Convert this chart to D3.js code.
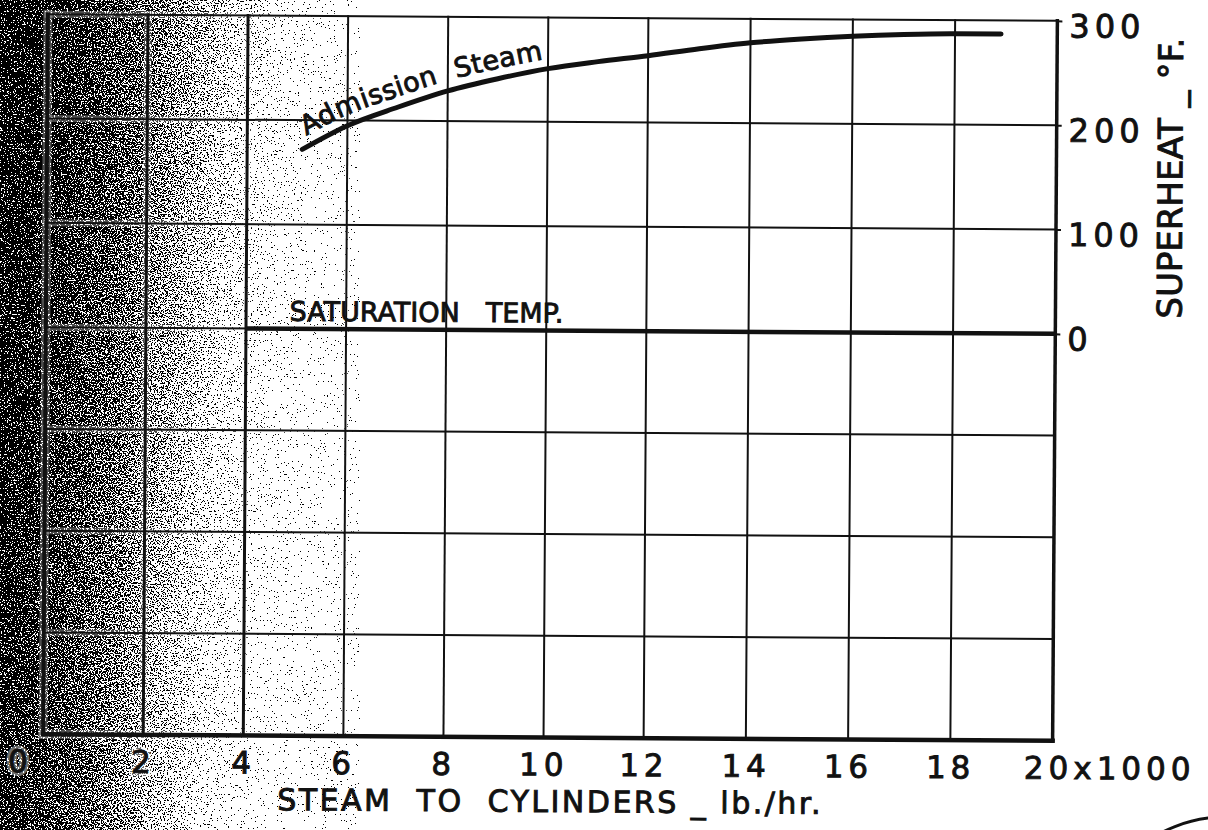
<!DOCTYPE html>
<html>
<head>
<meta charset="utf-8">
<script src="https://cdn.jsdelivr.net/npm/d3@7"></script>
<style>
  body { margin: 0; background: #fff; }
  svg { display: block; }
  text { font-family: "DejaVu Sans", Lato, sans-serif; fill: #111; }
  /* pen lettering is heavier than the font */
  .ink { stroke: #111; stroke-width: 0.9; }
</style>
</head>
<body>
<svg width="1208" height="830"></svg>
<script>
// steam to cylinders (x1000 lb/hr) vs superheat (deg F)
const admissionFlow = [5.1, 6, 7, 8, 9, 10, 11, 12, 13, 14, 15, 16, 17, 18, 18.9]
const admissionSuperheat = [172, 195, 213, 229, 241, 251, 258, 264, 271, 277, 281, 284, 286, 287, 287]
const saturationFlow = [4, 20]
const saturationSuperheat = [0, 0]

const xTicks = [0, 2, 4, 6, 8, 10, 12, 14, 16, 18, 20]
const xTickLabels = ['0', '2', '4', '6', '8', '10', '12', '14', '16', '18', '20x1000']
const yTicks = [0, 100, 200, 300]
const yTickLabels = ['0', '100', '200', '300']
const gridRows = [-400, -300, -200, -100, 0, 100, 200, 300]

const svg = d3.select('svg')

// the paper is unevenly printed: scale is a bit stretched, so polylinear
const x = d3.scaleLinear().domain([0, 12, 20]).range([45.5, 646, 1055])
const y = d3.scaleLinear().domain([-400, 0, 300]).range([737.5, 330.5, 17.5])

// scanner shading on the left edge
const defs = svg.append('defs')
const grad = defs.append('linearGradient').attr('id', 'shade')
  .attr('gradientUnits', 'userSpaceOnUse')
  .attr('x1', 0).attr('y1', 0).attr('x2', 340).attr('y2', 25)
const stops = [[0, '#303030'], [0.13, '#383838'], [0.3, '#525252'], [0.43, '#6e6e6e'], [0.59, '#a0a0a0'], [0.72, '#d0d0d0'], [0.86, '#f0f0f0'], [1, '#fff']]
stops.forEach(s => grad.append('stop').attr('offset', s[0]).attr('stop-color', s[1]))

const grain = defs.append('filter').attr('id', 'grain')
  .attr('x', 0).attr('y', 0).attr('width', '100%').attr('height', '100%')
  .attr('color-interpolation-filters', 'sRGB')
grain.append('feTurbulence').attr('type', 'fractalNoise').attr('baseFrequency', 0.7)
  .attr('numOctaves', 2).attr('seed', 7).attr('result', 'noise')
grain.append('feColorMatrix').attr('in', 'noise').attr('type', 'matrix')
  .attr('values', '1 0 0 0 0  1 0 0 0 0  1 0 0 0 0  0 0 0 0 1').attr('result', 'mono')
grain.append('feComposite').attr('in', 'SourceGraphic').attr('in2', 'mono')
  .attr('operator', 'arithmetic').attr('k1', 0).attr('k2', 1).attr('k3', 2.2).attr('k4', -1.1)
  .attr('result', 'mix')
const ct = grain.append('feComponentTransfer').attr('in', 'mix')
;['feFuncR', 'feFuncG', 'feFuncB'].forEach(f => ct.append(f).attr('type', 'discrete').attr('tableValues', '0 1'))
ct.append('feFuncA').attr('type', 'linear').attr('slope', 0).attr('intercept', 1)

svg.append('rect').attr('x', 0).attr('y', 0).attr('width', 360).attr('height', 830)
  .attr('fill', 'url(#shade)').attr('filter', 'url(#grain)')

// whole sheet sits slightly skewed on the scanner
const chart = svg.append('g').attr('transform', 'rotate(0.38 550 378)')

const vWidth = d => d === 0 ? 4 : d === 20 ? 3.5 : d <= 4 ? 3 : 2
const hWidth = d => d === -400 ? 4.5 : 2

// grid: a faint pale halo first so the lines read through the shading
function drawGrid(halo) {
  chart.append('g')
    .selectAll('line')
    .data(xTicks)
    .join('line')
    .attr('x1', d => x(d)).attr('x2', d => x(d))
    .attr('y1', y(300)).attr('y2', y(-400))
    .attr('stroke', halo ? '#fff' : '#111')
    .attr('stroke-opacity', halo ? 0.3 : 1)
    .attr('stroke-linecap', 'square')
    .attr('stroke-width', d => vWidth(d) + (halo ? 5 : 0))

  chart.append('g')
    .selectAll('line')
    .data(gridRows)
    .join('line')
    .attr('x1', x(0)).attr('x2', x(20))
    .attr('y1', d => y(d)).attr('y2', d => y(d))
    .attr('stroke', halo ? '#fff' : '#111')
    .attr('stroke-opacity', halo ? 0.3 : 1)
    .attr('stroke-linecap', 'square')
    .attr('stroke-width', d => hWidth(d) + (halo ? 5 : 0))
}
drawGrid(true)
drawGrid(false)

// bottom axis labels
const xAxis = d3.axisBottom(x)
  .tickValues(xTicks)
  .tickSize(0)
  .tickPadding(16)
  .tickFormat(d => xTickLabels[xTicks.indexOf(d)])

const gx = chart.append('g')
  .attr('transform', `translate(0,${y(-400)})`)
  .call(xAxis)
gx.select('.domain').remove()
gx.attr('font-family', null).attr('font-size', 31).attr('color', '#111')
gx.selectAll('text').attr('class', 'ink').attr('letter-spacing', 5)
gx.selectAll('.tick').filter(d => d === 0).select('text').attr('dx', -23)
gx.selectAll('.tick').filter(d => d === 20).select('text')
  .attr('text-anchor', 'start').attr('dx', 1026 - x(20))
// labels sitting in the dark part get a pale patch behind them
gx.selectAll('.tick').filter(d => d <= 2).each(function () {
  d3.select(this).select('text').clone(true).lower()
    .attr('class', null)
    .attr('stroke', '#fff').attr('stroke-opacity', 0.45).attr('stroke-width', 7)
})

// right axis
const yAxis = d3.axisRight(y)
  .tickValues(yTicks)
  .tickSize(5)
  .tickPadding(7)
  .tickFormat(d => yTickLabels[yTicks.indexOf(d)])

const gy = chart.append('g')
  .attr('transform', `translate(${x(20)},0)`)
  .call(yAxis)
gy.select('.domain').remove()
gy.attr('font-family', null).attr('font-size', 32).attr('color', '#111')
gy.selectAll('text').attr('class', 'ink').attr('dy', '0.5em').attr('letter-spacing', 5)
gy.selectAll('line').attr('stroke-width', 2)

// curves
const line = d3.line()
  .x(d => x(d[0]))
  .y(d => y(d[1]))
  .curve(d3.curveMonotoneX)

chart.append('path')
  .attr('id', 'admission-curve')
  .datum(d3.zip(admissionFlow, admissionSuperheat))
  .attr('d', line)
  .attr('fill', 'none')
  .attr('stroke', '#111')
  .attr('stroke-width', 5)
  .attr('stroke-linecap', 'round')

chart.append('path')
  .datum(d3.zip(saturationFlow, saturationSuperheat))
  .attr('d', line)
  .attr('fill', 'none')
  .attr('stroke', '#111')
  .attr('stroke-width', 4.5)

// curve labels
chart.append('text')
  .attr('class', 'ink')
  .attr('font-size', 27)
  .attr('letter-spacing', 0.3)
  .attr('dy', -10)
  .style('white-space', 'pre')
  .append('textPath')
  .attr('href', '#admission-curve')
  .attr('startOffset', 10)
  .text('Admission  Steam')

const sat = chart.append('text')
  .attr('class', 'ink')
  .attr('x', x(4.87))
  .attr('y', y(0) - 8)
  .attr('font-size', 27)
sat.append('tspan').text('SATURATION')
sat.append('tspan').attr('dx', 26).text('TEMP.')

// axis titles
chart.append('text')
  .attr('class', 'ink')
  .attr('x', 553)
  .attr('y', 812)
  .attr('text-anchor', 'middle')
  .attr('font-size', 30)
  .attr('letter-spacing', 2.5)
  .style('white-space', 'pre')
  .text('STEAM  TO  CYLINDERS _ lb./hr.')

chart.append('text')
  .attr('class', 'ink')
  .attr('transform', 'translate(1181,174) rotate(-90)')
  .attr('text-anchor', 'middle')
  .attr('font-size', 34)
  .style('white-space', 'pre')
  .text('SUPERHEAT _ °F.')

// edge of a stamp in the corner
svg.append('circle')
  .attr('cx', 1225).attr('cy', 953).attr('r', 136)
  .attr('fill', 'none').attr('stroke', '#111').attr('stroke-width', 3)
</script>
</body>
</html>
